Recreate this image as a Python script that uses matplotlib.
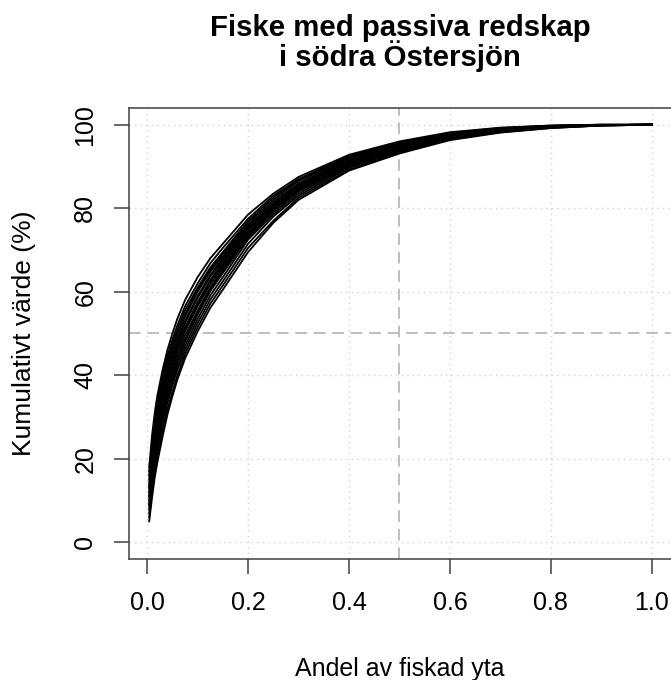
import matplotlib
matplotlib.use("Agg")
import matplotlib.pyplot as plt

plt.rcParams['font.family'] = ['Liberation Sans', 'DejaVu Sans']

# andel av fiskad yta (x) - gemensamma punkter for alla kurvor
area_share = [0.004, 0.01, 0.015, 0.02, 0.03, 0.04, 0.05, 0.06, 0.075, 0.1,
              0.125, 0.15, 0.2, 0.25, 0.3, 0.4, 0.5, 0.6, 0.7, 0.8, 0.9, 1.0]

# kumulativt varde (%) per kurva, avlast ur bilden
curves = [
    [18, 26, 31, 35, 41, 46, 50, 53.6, 58, 63.5, 68, 71.5, 78.5, 83.5, 87.5, 92.8, 96.0, 98.2, 99.3, 99.8, 100, 100],
    [16, 24, 29, 33, 40, 44.7, 48.5, 52, 56.5, 62, 66.8, 70.5, 77.5, 83, 87, 92.5, 95.8, 98, 99.2, 99.8, 100, 100],
    [15, 23, 28, 32, 38.5, 43.5, 47.5, 51, 55.5, 61, 65.8, 69.5, 77, 82.5, 86.8, 92.3, 95.6, 97.9, 99.1, 99.7, 100, 100],
    [17, 24, 28.5, 32, 38, 42.8, 46.5, 50, 54.5, 60.5, 65.3, 69, 76.5, 82, 86.5, 92, 95.5, 97.8, 99.1, 99.7, 99.9, 100],
    [13, 21, 26, 30, 37, 42, 46, 49.6, 54, 60, 64.8, 68.5, 76, 81.5, 86, 91.8, 95.3, 97.7, 99, 99.7, 99.9, 100],
    [14, 21, 25.8, 29.5, 36, 41, 45, 48.6, 53, 59, 64, 68, 75.5, 81, 85.7, 91.5, 95.2, 97.6, 98.9, 99.6, 99.9, 100],
    [12, 20, 24.8, 28.5, 35, 40, 44, 47.8, 52.5, 58.5, 63.6, 67.5, 75.5, 81, 85.5, 91.3, 95, 97.5, 98.9, 99.6, 99.9, 100],
    [11, 19, 24, 28, 34.5, 39.5, 43.5, 47, 51.5, 57.5, 62.8, 67, 75, 80.5, 85.2, 91.2, 94.9, 97.4, 98.8, 99.6, 99.9, 100],
    [13, 19.5, 23.8, 27, 33.5, 38.5, 42.5, 46.3, 51, 57, 62.3, 66.5, 74.5, 80.5, 85, 91, 94.8, 97.3, 98.8, 99.5, 99.9, 100],
    [10, 18, 22.8, 26.5, 33, 38, 42, 45.8, 50.5, 56.5, 61.8, 66, 74, 80, 84.8, 90.8, 94.7, 97.3, 98.7, 99.5, 99.9, 100],
    [9, 17, 22, 26, 32, 37, 41, 44.8, 49.5, 55.5, 61, 65.5, 73.8, 79.8, 84.5, 90.6, 94.5, 97.2, 98.7, 99.5, 99.9, 100],
    [11, 17.5, 21.8, 25, 31, 36, 40, 43.8, 48.5, 55, 60.6, 65, 73.5, 79.5, 84.3, 90.5, 94.4, 97.1, 98.6, 99.5, 99.9, 100],
    [8, 16, 20.8, 24.5, 30.5, 35.5, 39.5, 43.3, 48, 54.5, 60.1, 64.5, 73, 79, 84, 90.2, 94.2, 97, 98.6, 99.4, 99.9, 100],
    [9, 15, 19.5, 23, 29.5, 34.5, 38.5, 42.3, 47, 53.5, 59.1, 63.5, 72.5, 78.5, 83.5, 90, 94, 96.9, 98.5, 99.4, 99.8, 100],
    [7, 14, 18.5, 22, 28, 33.3, 37.5, 41.3, 46, 52.5, 58.1, 62.5, 71.5, 78, 83, 89.7, 93.7, 96.7, 98.4, 99.3, 99.8, 100],
    [6, 12.5, 17, 20.5, 26.5, 31.8, 36, 40, 45, 51.5, 57.1, 61.5, 70.5, 77, 82.5, 89.3, 93.4, 96.5, 98.2, 99.2, 99.8, 100],
    [5, 11, 15.5, 19, 25, 30.5, 35, 39, 44, 50.5, 56.1, 60.5, 69.5, 76.5, 82, 89, 93.1, 96.3, 98.1, 99.2, 99.8, 100],
]

x_ticks = [0.0, 0.2, 0.4, 0.6, 0.8, 1.0]
x_tick_labels = ['0.0', '0.2', '0.4', '0.6', '0.8', '1.0']
y_ticks = [0, 20, 40, 60, 80, 100]

fig = plt.figure(figsize=(6.71, 6.8), dpi=100)
ax = fig.add_axes([0.19225, 0.17794, 0.80924, 0.66324])

ax.set_xlim(-0.036, 1.04)
ax.set_ylim(-4, 104)

# grid
for xv in x_ticks:
    ax.axvline(xv, color='#d3d3d3', lw=1.0, ls=(0, (1, 3)), zorder=0)
for yv in y_ticks:
    ax.axhline(yv, color='#d3d3d3', lw=1.0, ls=(0, (1, 3)), zorder=0)

for ys in curves:
    ax.plot(area_share, ys, color='black', lw=1.3, zorder=3)

# referenslinjer
ax.axhline(50, color='#bebebe', lw=1.4, ls=(0, (6, 3.5)), zorder=2)
ax.axvline(0.5, color='#bebebe', lw=1.4, ls=(0, (6, 3.5)), zorder=2)

ax.set_xticks(x_ticks)
ax.set_xticklabels(x_tick_labels)
ax.set_yticks(y_ticks)
ax.set_yticklabels([str(v) for v in y_ticks], rotation=90, va='center')

for s in ['left', 'top', 'bottom']:
    ax.spines[s].set_color('#404040')
    ax.spines[s].set_linewidth(1.1)
ax.spines['right'].set_visible(False)
ax.tick_params(direction='out', length=10.8, width=1.1, color='#404040',
               labelsize=18, pad=12)

fig.text(0.5961, 0.9466, 'Fiske med passiva redskap', ha='center',
         va='baseline', fontsize=21.2, fontweight='bold')
fig.text(0.5961, 0.9034, 'i södra Östersjön', ha='center',
         va='baseline', fontsize=21.2, fontweight='bold')
fig.text(0.5961, 0.0066, 'Andel av fiskad yta', ha='center',
         va='baseline', fontsize=18)
fig.text(31 / 671, 0.5096, 'Kumulativt värde (%)', ha='center',
         va='baseline', rotation=90, rotation_mode='anchor', fontsize=19)

fig.savefig('out.png', dpi=100)
